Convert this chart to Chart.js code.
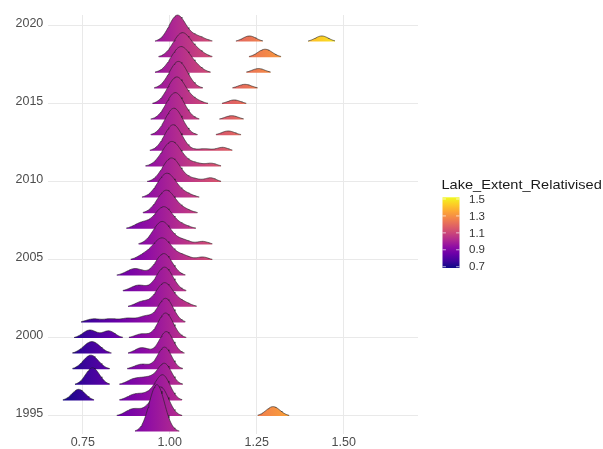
<!DOCTYPE html>
<html>
<head>
<meta charset="utf-8">
<script src="https://cdn.jsdelivr.net/npm/chart.js@4.4.0/dist/chart.umd.min.js"></script>
<style>
  html, body { margin: 0; padding: 0; background: #ffffff; }
  #wrap { width: 603px; height: 449px; position: relative; }
</style>
</head>
<body>
<div id="wrap"><canvas id="c" width="603" height="449"></canvas></div>
<script>
// ---------------- data ----------------
const years = [1994,1995,1996,1997,1998,1999,2000,2001,2002,2003,2004,2005,2006,
               2007,2008,2009,2010,2011,2012,2013,2014,2015,2016,2017,2018,2019];
const yTickValues = [1995, 2000, 2005, 2010, 2015, 2020];
const xTickValues = [0.75, 1.00, 1.25, 1.50];
const legendTickValues = [0.7, 0.9, 1.1, 1.3, 1.5];
const fillLimits = [0.685, 1.52];
const legendTitle = "Lake_Extent_Relativised";

// density peaks: year, centre (lake extent), spread, ridge height (in year rows)
const peakYear = [
  2019,2019,2019,2019,
  2018,2018,2018,
  2017,2017,2017,
  2016,2016,
  2015,2015,2015,
  2014,2014,
  2013,2013,
  2012,2012,2012,
  2011,2011,2011,
  2010,2010,2010,
  2009,2009,
  2008,2008,
  2007,2007,2007,
  2006,2006,2006,
  2005,2005,2005,2005,
  2004,2004,
  2003,2003,
  2002,2002,2002,
  2001,2001,2001,2001,2001,
  2000,2000,2000,2000,
  1999,1999,1999,
  1998,1998,1998,
  1997,1997,1997,1997,
  1996,1996,1996,1996,
  1995,1995,1995,1995,
  1994
];
const peakCentre = [
  1.022,1.080,1.229,1.437,
  1.036,1.085,1.274,
  1.032,1.080,1.255,
  1.025,1.216,
  1.020,1.075,1.185,
  1.016,1.178,
  1.012,1.168,
  1.010,1.100,1.152,
  1.006,1.075,1.120,
  1.005,1.070,1.118,
  0.992,1.050,
  0.990,1.045,
  0.983,0.920,1.040,
  0.978,1.040,1.095,
  0.978,0.925,1.040,1.095,
  0.983,0.900,
  0.985,0.910,
  0.985,0.920,1.040,
  0.988,0.780,0.830,0.880,0.930,
  0.988,0.770,0.825,0.920,
  0.990,0.920,0.776,
  0.985,0.920,0.773,
  0.985,0.900,0.940,0.778,
  0.980,0.900,0.940,0.738,
  0.975,0.895,0.940,1.297,
  0.963
];
const peakSpread = [
  0.024,0.022,0.019,0.019,
  0.026,0.020,0.021,
  0.028,0.020,0.019,
  0.026,0.019,
  0.026,0.020,0.019,
  0.026,0.019,
  0.025,0.019,
  0.025,0.020,0.016,
  0.028,0.020,0.016,
  0.026,0.020,0.016,
  0.027,0.020,
  0.026,0.020,
  0.026,0.022,0.020,
  0.026,0.020,0.016,
  0.027,0.020,0.020,0.016,
  0.024,0.024,
  0.024,0.022,
  0.025,0.020,0.020,
  0.022,0.020,0.020,0.020,0.020,
  0.022,0.020,0.018,0.020,
  0.020,0.020,0.024,
  0.020,0.022,0.022,
  0.020,0.022,0.020,0.020,
  0.021,0.022,0.020,0.019,
  0.022,0.022,0.020,0.020,
  0.022
];
const peakHeight = [
  1.69,0.32,0.36,0.36,
  1.56,0.26,0.51,
  1.67,0.19,0.27,
  1.73,0.26,
  1.73,0.19,0.26,
  1.73,0.25,
  1.73,0.27,
  1.67,0.13,0.22,
  1.60,0.19,0.19,
  1.54,0.19,0.26,
  1.56,0.19,
  1.47,0.19,
  1.41,0.38,0.19,
  1.47,0.26,0.19,
  1.41,0.26,0.26,0.19,
  1.41,0.45,
  1.54,0.38,
  1.54,0.32,0.26,
  1.54,0.22,0.22,0.26,0.38,
  1.60,0.51,0.45,0.26,
  1.41,0.38,0.77,
  1.41,0.32,0.90,
  1.35,0.38,0.38,1.09,
  1.60,0.38,0.32,0.71,
  1.79,0.45,0.32,0.60,
  3.01
];

// plasma palette
const plasma = ["#0d0887","#41049d","#6a00a8","#8f0da4","#b12a90","#cc4778",
                "#e16462","#f2844b","#fca636","#fcce25","#f0f921"];

// ---------------- build ridges ----------------
const minRelHeight = 0.04;
const gridStep = 0.0025;
function densityAt(yr, x) {
  let d = 0;
  for (let i = 0; i < peakYear.length; i++) {
    if (peakYear[i] !== yr) continue;
    const z = (x - peakCentre[i]) / peakSpread[i];
    d += peakHeight[i] * Math.exp(-0.5 * z * z);
  }
  return d;
}

let plasmaGrad = null;
function fillGradient(context) {
  const chart = context.chart;
  const { ctx, chartArea, scales } = chart;
  if (!chartArea || !scales.x) return "#b12a90";
  if (!plasmaGrad) {
    const x0 = scales.x.getPixelForValue(fillLimits[0]);
    const x1 = scales.x.getPixelForValue(fillLimits[1]);
    plasmaGrad = ctx.createLinearGradient(x0, 0, x1, 0);
    plasma.forEach((c, i) => plasmaGrad.addColorStop(i / (plasma.length - 1), c));
  }
  return plasmaGrad;
}

const datasets = [];
years.forEach(yr => {
  let seg = [];
  const flush = () => {
    if (seg.length > 1) {
      datasets.push({
        label: String(yr),
        data: seg,
        fill: { value: yr },
        backgroundColor: fillGradient,
        borderColor: "rgba(30,30,30,0.85)",
        borderWidth: 0.7,
        pointRadius: 0,
        tension: 0,
        clip: false
      });
    }
    seg = [];
  };
  for (let x = 0.6; x <= 1.6; x += gridStep) {
    const d = densityAt(yr, x);
    if (d >= minRelHeight) seg.push({ x: x, y: yr + d });
    else flush();
  }
  flush();
});

// ---------------- colour bar legend ----------------
const colourBar = {
  id: "colourBar",
  afterDraw(chart) {
    const ctx = chart.ctx;
    const x0 = 442.5, w = 17, yTop = 197.3, yBot = 268;
    ctx.save();
    const g = ctx.createLinearGradient(0, yBot, 0, yTop);
    plasma.forEach((c, i) => g.addColorStop(i / (plasma.length - 1), c));
    ctx.fillStyle = g;
    ctx.fillRect(x0, yTop, w, yBot - yTop);
    const span = fillLimits[1] - fillLimits[0];
    ctx.strokeStyle = "rgba(255,255,255,0.85)";
    ctx.lineWidth = 0.8;
    ctx.font = "11.5px 'Liberation Sans', Arial, sans-serif";
    ctx.fillStyle = "#333333";
    ctx.textAlign = "left";
    ctx.textBaseline = "middle";
    legendTickValues.forEach(v => {
      const y = yBot - (v - fillLimits[0]) / span * (yBot - yTop);
      ctx.beginPath();
      ctx.moveTo(x0, y); ctx.lineTo(x0 + 3.4, y);
      ctx.moveTo(x0 + w - 3.4, y); ctx.lineTo(x0 + w, y);
      ctx.stroke();
      ctx.fillText(v.toFixed(1), 469, y + 0.5);
    });
    ctx.translate(441.5, 185);
    ctx.scale(1.12, 1);
    ctx.font = "13px 'Liberation Sans', Arial, sans-serif";
    ctx.fillStyle = "#1a1a1a";
    ctx.fillText(legendTitle, 0, 0);
    ctx.restore();
  }
};

// ---------------- chart ----------------
const tickFont = { family: "'Liberation Sans', Arial, sans-serif", size: 12.5 };
new Chart(document.getElementById("c"), {
  type: "line",
  data: { datasets: datasets },
  options: {
    responsive: false,
    devicePixelRatio: 1,
    animation: false,
    events: [],
    layout: { padding: { top: 15, right: 185, left: 0, bottom: 0 } },
    plugins: { legend: { display: false }, tooltip: { enabled: false } },
    scales: {
      x: {
        type: "linear",
        min: 0.65,
        max: 1.7135,
        afterBuildTicks: s => { s.ticks = xTickValues.map(v => ({ value: v })); },
        afterFit: s => { s.height = 15; },
        ticks: {
          callback: v => Number(v).toFixed(2),
          font: tickFont,
          color: "#4d4d4d",
          padding: 1,
          maxRotation: 0
        },
        grid: { color: "#e9e9e9", lineWidth: 1, drawTicks: false },
        border: { display: false }
      },
      y: {
        type: "linear",
        min: 1993.846,
        max: 2020.705,
        afterBuildTicks: s => { s.ticks = yTickValues.map(v => ({ value: v })); },
        afterFit: s => { s.width = 48; },
        ticks: {
          callback: v => String(v),
          font: tickFont,
          color: "#4d4d4d",
          padding: 4.7,
          labelOffset: -2.5
        },
        grid: { color: "#e9e9e9", lineWidth: 1, drawTicks: false },
        border: { display: false }
      }
    }
  },
  plugins: [colourBar]
});
</script>
</body>
</html>
